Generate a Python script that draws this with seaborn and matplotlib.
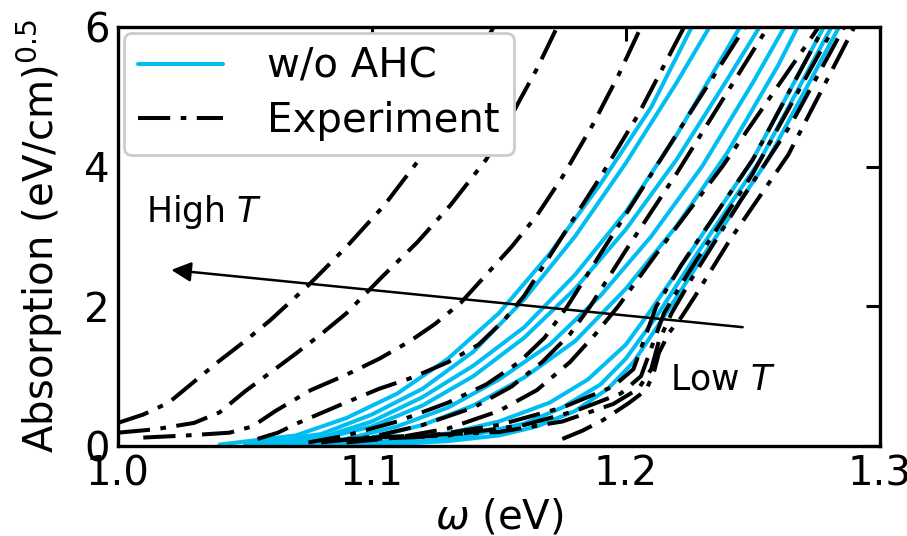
import matplotlib
matplotlib.use("Agg")
import matplotlib.pyplot as plt
import seaborn as sns
import pandas as pd
from matplotlib.lines import Line2D

# ---------------- data ----------------
# Simulation without AHC (blue, solid)
b1_x = [1.04, 1.07, 1.09, 1.11, 1.13, 1.15, 1.17, 1.19, 1.21, 1.226]
b1_y = [0.02, 0.15, 0.40, 0.75, 1.25, 1.90, 2.75, 3.75, 4.85, 6.0]
b2_x = [1.05, 1.08, 1.10, 1.12, 1.14, 1.16, 1.18, 1.20, 1.22, 1.233]
b2_y = [0.02, 0.17, 0.45, 0.82, 1.35, 2.10, 3.00, 4.05, 5.20, 6.0]
b3_x = [1.05, 1.08, 1.10, 1.12, 1.14, 1.16, 1.18, 1.20, 1.22, 1.245]
b3_y = [0.01, 0.12, 0.35, 0.70, 1.15, 1.70, 2.45, 3.35, 4.45, 6.0]
b4_x = [1.05, 1.08, 1.10, 1.12, 1.14, 1.16, 1.18, 1.20, 1.22, 1.24, 1.2527]
b4_y = [0.01, 0.10, 0.28, 0.58, 1.00, 1.55, 2.25, 3.10, 4.10, 5.25, 6.0]
b5_x = [1.06, 1.09, 1.11, 1.13, 1.15, 1.17, 1.19, 1.21, 1.23, 1.25, 1.2625]
b5_y = [0.01, 0.10, 0.28, 0.55, 0.95, 1.45, 2.15, 3.00, 4.00, 5.20, 6.0]
b6_x = [1.07, 1.10, 1.12, 1.14, 1.16, 1.18, 1.20, 1.22, 1.24, 1.26, 1.2677]
b6_y = [0.01, 0.12, 0.30, 0.58, 0.98, 1.50, 2.25, 3.15, 4.20, 5.45, 6.0]
b7_x = [1.08, 1.11, 1.13, 1.15, 1.17, 1.185, 1.20, 1.21, 1.225, 1.25, 1.278]
b7_y = [0.01, 0.08, 0.18, 0.35, 0.62, 0.95, 1.45, 1.95, 2.75, 4.10, 6.0]
b8_x = [1.09, 1.12, 1.14, 1.16, 1.175, 1.19, 1.20, 1.212, 1.228, 1.253, 1.281]
b8_y = [0.01, 0.07, 0.16, 0.32, 0.55, 0.88, 1.25, 1.85, 2.75, 4.10, 6.0]
b9_x = [1.10, 1.13, 1.15, 1.165, 1.18, 1.193, 1.203, 1.215, 1.231, 1.256, 1.284]
b9_y = [0.01, 0.07, 0.15, 0.28, 0.50, 0.82, 1.20, 1.85, 2.75, 4.10, 6.0]

# Experiment (black, dash-dot), high T -> low T
e1_x = [1.0, 1.01, 1.02, 1.03, 1.04, 1.05, 1.06, 1.075, 1.09, 1.105, 1.118, 1.133, 1.148]
e1_y = [0.33, 0.45, 0.62, 0.92, 1.22, 1.50, 1.80, 2.30, 2.85, 3.45, 4.07, 5.00, 6.0]
e2_x = [1.0, 1.015, 1.03, 1.04, 1.05, 1.06, 1.07, 1.08, 1.09, 1.104, 1.118, 1.131, 1.145, 1.156, 1.165, 1.173]
e2_y = [0.19, 0.24, 0.33, 0.48, 0.78, 1.05, 1.32, 1.60, 1.90, 2.42, 2.92, 3.45, 4.10, 4.80, 5.40, 6.0]
e3_x = [1.01, 1.027, 1.044, 1.053, 1.062, 1.076, 1.09, 1.103, 1.115, 1.125, 1.135, 1.145, 1.155, 1.165, 1.175, 1.187, 1.197, 1.206]
e3_y = [0.12, 0.15, 0.19, 0.28, 0.50, 0.80, 1.02, 1.25, 1.50, 1.75, 2.05, 2.45, 2.85, 3.30, 3.85, 4.60, 5.30, 6.0]
e4_x = [1.055, 1.063, 1.071, 1.089, 1.103, 1.116, 1.13, 1.142, 1.152, 1.160, 1.175, 1.19, 1.205, 1.223]
e4_y = [0.10, 0.19, 0.33, 0.61, 0.82, 0.98, 1.20, 1.45, 1.80, 2.15, 3.00, 3.85, 4.75, 6.0]
e5_x = [1.075, 1.09, 1.11, 1.13, 1.145, 1.158, 1.168, 1.177, 1.19, 1.205, 1.225, 1.247]
e5_y = [0.05, 0.15, 0.35, 0.62, 0.88, 1.20, 1.55, 2.00, 2.75, 3.60, 4.75, 6.0]
e6_x = [1.08, 1.10, 1.12, 1.14, 1.155, 1.167, 1.178, 1.186, 1.20, 1.22, 1.256]
e6_y = [0.05, 0.13, 0.30, 0.55, 0.85, 1.20, 1.60, 2.00, 2.80, 3.90, 6.0]
e7_x = [1.09, 1.11, 1.13, 1.15, 1.165, 1.178, 1.188, 1.197, 1.212, 1.238, 1.276]
e7_y = [0.05, 0.12, 0.25, 0.50, 0.80, 1.20, 1.60, 2.00, 2.75, 4.00, 6.0]
e8_x = [1.085, 1.12, 1.15, 1.175, 1.195, 1.203, 1.207, 1.212, 1.222, 1.25, 1.278]
e8_y = [0.08, 0.13, 0.30, 0.55, 0.85, 1.10, 1.50, 2.00, 2.60, 4.10, 6.0]
e9_x = [1.09, 1.13, 1.16, 1.18, 1.198, 1.206, 1.21, 1.215, 1.225, 1.25, 1.282]
e9_y = [0.10, 0.15, 0.30, 0.50, 0.75, 1.00, 1.40, 1.90, 2.50, 3.90, 6.0]
e10_x = [1.10, 1.15, 1.175, 1.195, 1.205, 1.21, 1.213, 1.218, 1.226, 1.245, 1.265, 1.286]
e10_y = [0.12, 0.20, 0.35, 0.60, 0.82, 1.10, 1.50, 1.90, 2.40, 3.50, 4.60, 6.0]
e11_x = [1.175, 1.183, 1.191, 1.201, 1.208, 1.211, 1.213, 1.217, 1.222, 1.227, 1.241, 1.264, 1.290]
e11_y = [0.10, 0.22, 0.37, 0.61, 0.80, 1.05, 1.33, 1.62, 1.85, 2.13, 2.95, 4.17, 6.0]

sim_curves = [(b1_x, b1_y), (b2_x, b2_y), (b3_x, b3_y), (b4_x, b4_y), (b5_x, b5_y),
              (b6_x, b6_y), (b7_x, b7_y), (b8_x, b8_y), (b9_x, b9_y)]
exp_curves = [(e1_x, e1_y), (e2_x, e2_y), (e3_x, e3_y), (e4_x, e4_y), (e5_x, e5_y),
              (e6_x, e6_y), (e7_x, e7_y), (e8_x, e8_y), (e9_x, e9_y), (e10_x, e10_y),
              (e11_x, e11_y)]

legend_labels = ["w/o AHC", "Experiment"]
x_ticks = [1.0, 1.1, 1.2, 1.3]
y_ticks = [0, 2, 4, 6]

# ---------------- styling ----------------
sns.set_style("white")
plt.rcParams['font.family'] = ['DejaVu Sans']
plt.rcParams['mathtext.fontset'] = 'dejavusans'
for k in ['text.color', 'axes.labelcolor', 'xtick.color', 'ytick.color', 'axes.edgecolor']:
    plt.rcParams[k] = 'black'

BLUE = '#00bdf2'
FS = 29

fig = plt.figure(figsize=(9.07, 5.36), dpi=100)
ax = fig.add_axes([0.130, 0.168, 0.840, 0.782])

for cx, cy in sim_curves:
    sns.lineplot(x=cx, y=cy, ax=ax, color=BLUE, lw=2.9, sort=False,
                 estimator=None, zorder=2)

dash_pattern = (0, (8, 2.6, 1.4, 2.6))
for cx, cy in exp_curves:
    sns.lineplot(x=cx, y=cy, ax=ax, color='black', lw=2.9, sort=False,
                 estimator=None, linestyle=dash_pattern, zorder=3)

ax.set_xlim(1.0, 1.3)
ax.set_ylim(0, 6)
ax.set_xticks(x_ticks)
ax.set_xticklabels([f"{v:.1f}" for v in x_ticks])
ax.set_yticks(y_ticks)
ax.tick_params(direction='in', length=10, width=2.2, labelsize=FS,
               top=True, right=True, pad=6, colors='black')
for s in ax.spines.values():
    s.set_linewidth(2.4)
    s.set_color('black')

ax.set_xlabel(r'$\omega$ (eV)', fontsize=FS, labelpad=2)
ax.set_ylabel(r'Absorption (eV/cm)$^{0.5}$', fontsize=FS, labelpad=14)

# arrow High T <- Low T
ax.annotate('', xy=(1.021, 2.52), xytext=(1.246, 1.70),
            arrowprops=dict(arrowstyle='-|>', color='black', lw=1.8,
                            mutation_scale=30, shrinkA=0, shrinkB=0), zorder=5)
ax.text(1.011, 3.35, 'High $T$', fontsize=25, ha='left', va='center')
ax.text(1.2175, 0.95, 'Low $T$', fontsize=25, ha='left', va='center')

handles = [Line2D([0], [0], color=BLUE, lw=2.9),
           Line2D([0], [0], color='black', lw=2.9, linestyle=dash_pattern)]
leg = ax.legend(handles, legend_labels, loc='upper left', fontsize=FS,
                frameon=True, fancybox=True, framealpha=1.0,
                edgecolor='#cccccc', borderpad=0.35, labelspacing=0.35,
                handlelength=2.1, handletextpad=1.1,
                bbox_to_anchor=(0.0, 1.0), borderaxespad=0.15)
leg.get_frame().set_linewidth(2.0)

fig.savefig('out.png', dpi=100)
